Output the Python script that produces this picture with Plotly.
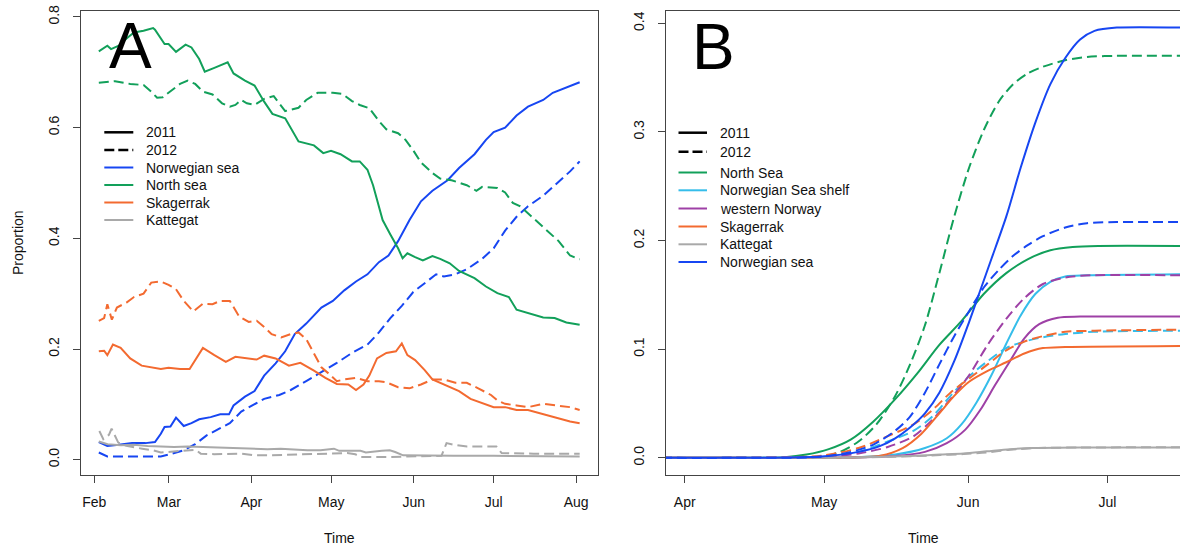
import pandas as pd
import plotly.graph_objects as go

W, H = 1180, 549
MT, MB = 11, 74
FONT = "Liberation Sans, Arial, sans-serif"

BASE_A = "2011-02-01"   # day 0 of panel A
BASE_B = "2011-04-01"   # day 0 of panel B

# ---------------- Panel A data (days since Feb 1, proportion) ----------------
a_norw11_day = [1.7,4.9,9.2,14.2,19.2,22.8,25.0,26.4,28.6,30.7,33.6,36.5,39.4,43.7,47.3,50.6,52.3,56.6,60.2,63.8,68.1,71.7,75.3,79.6,85.3,89.6,93.9,98.3,102.6,106.9,110.5,114.1,118.4,122.7,127.0,132.7,137.0,142.8,147.1,150.0,154.3,158.6,162.9,168.6,172.2,177.3,182.3]
a_norw11_val = [0.032,0.025,0.027,0.030,0.030,0.032,0.047,0.059,0.060,0.076,0.061,0.066,0.073,0.077,0.082,0.082,0.098,0.114,0.124,0.152,0.174,0.196,0.227,0.246,0.275,0.287,0.306,0.322,0.335,0.357,0.369,0.395,0.433,0.467,0.486,0.505,0.527,0.552,0.578,0.592,0.600,0.622,0.638,0.650,0.663,0.672,0.682]

a_norw12_day = [1.7,4.9,10.6,19.2,25.0,29.3,33.6,37.9,42.2,47.3,50.9,55.2,59.5,63.8,69.5,73.8,79.6,85.3,91.1,96.8,102.6,106.9,111.2,115.5,119.8,124.1,128.4,131.3,135.6,139.9,145.7,150.0,154.3,158.6,162.9,168.6,174.4,178.7,182.3]
a_norw12_val = [0.013,0.006,0.006,0.006,0.006,0.011,0.017,0.028,0.044,0.057,0.066,0.087,0.098,0.110,0.117,0.126,0.142,0.158,0.175,0.193,0.208,0.230,0.256,0.278,0.303,0.319,0.335,0.331,0.335,0.344,0.363,0.382,0.414,0.439,0.458,0.477,0.502,0.521,0.539]

a_north11_day = [1.7,4.9,6.3,9.2,12.1,14.9,18.5,22.1,22.8,26.4,27.9,30.7,34.3,36.5,39.4,41.5,45.1,50.1,52.3,56.6,60.2,63.8,66.9,71.7,76.7,82.5,86.0,88.9,92.5,96.8,99.7,102.6,104.7,108.3,111.2,114.1,115.8,117.6,120.5,123.4,127.0,129.9,133.5,137.0,142.8,147.1,151.4,155.7,158.6,162.9,168.6,172.9,177.3,182.3]
a_north11_val = [0.738,0.748,0.742,0.748,0.761,0.772,0.775,0.780,0.777,0.751,0.751,0.737,0.750,0.745,0.724,0.701,0.708,0.718,0.698,0.685,0.676,0.647,0.625,0.617,0.575,0.568,0.554,0.558,0.552,0.539,0.539,0.524,0.496,0.433,0.407,0.382,0.364,0.373,0.366,0.360,0.368,0.363,0.355,0.341,0.328,0.313,0.301,0.294,0.271,0.265,0.257,0.256,0.248,0.244]

a_north12_day = [1.7,7.8,13.5,18.5,21.4,23.6,25.7,28.6,32.2,35.1,37.9,40.8,44.4,48.0,50.9,53.0,55.2,57.3,60.2,63.8,67.4,71.7,76.7,79.6,83.9,89.6,93.2,96.8,99.7,103.3,106.9,109.7,114.1,116.9,119.8,122.7,127.0,129.9,134.2,139.9,143.5,145.7,151.4,154.3,157.2,160.0,162.9,165.8,170.1,174.4,178.7,182.3]
a_north12_val = [0.681,0.684,0.679,0.677,0.665,0.654,0.655,0.666,0.679,0.685,0.679,0.665,0.660,0.644,0.638,0.641,0.650,0.644,0.641,0.652,0.657,0.630,0.636,0.650,0.663,0.663,0.661,0.648,0.641,0.635,0.612,0.597,0.590,0.578,0.559,0.537,0.518,0.508,0.505,0.496,0.486,0.493,0.491,0.483,0.464,0.458,0.445,0.433,0.414,0.395,0.369,0.362]

a_skag11_day = [1.7,3.7,4.9,7.0,9.9,13.5,17.8,22.1,25.0,27.9,32.2,35.8,37.9,40.8,45.1,49.4,53.0,57.3,61.0,63.8,68.1,73.1,77.4,82.5,86.8,91.1,95.4,98.3,101.1,103.3,106.2,109.7,113.3,115.5,117.6,120.5,124.1,127.0,131.3,137.0,141.3,145.7,150.0,154.3,158.6,162.9,168.6,174.4,178.7,182.3]
a_skag11_val = [0.196,0.197,0.189,0.208,0.202,0.183,0.170,0.167,0.164,0.166,0.164,0.164,0.180,0.202,0.189,0.177,0.186,0.183,0.181,0.188,0.183,0.170,0.175,0.161,0.148,0.137,0.136,0.126,0.136,0.152,0.183,0.193,0.196,0.210,0.189,0.180,0.162,0.145,0.136,0.124,0.110,0.103,0.095,0.095,0.090,0.090,0.082,0.074,0.069,0.066]

a_skag12_day = [1.7,3.7,4.9,6.6,8.5,12.1,14.9,18.5,21.4,25.0,27.9,30.7,33.6,37.2,40.8,44.4,47.3,50.9,54.4,58.0,61.0,63.8,66.6,70.2,73.8,76.7,79.6,82.5,85.3,88.2,91.1,93.9,98.3,102.6,106.9,109.7,114.1,118.4,122.7,127.0,131.3,135.6,139.9,144.2,149.0,151.4,154.3,158.6,162.9,168.6,174.4,178.7,182.3]
a_skag12_val = [0.251,0.256,0.281,0.253,0.275,0.284,0.294,0.300,0.320,0.322,0.316,0.308,0.287,0.268,0.282,0.281,0.287,0.287,0.259,0.249,0.251,0.240,0.227,0.221,0.227,0.230,0.218,0.193,0.167,0.155,0.142,0.145,0.148,0.142,0.142,0.140,0.131,0.129,0.136,0.145,0.145,0.139,0.139,0.129,0.117,0.107,0.101,0.098,0.095,0.101,0.098,0.095,0.090]

a_katt11_day = [1.7,5,10,15,20,25,30,35,40,45,50,55,60,65,70,75,80,85,88,90,92,100,102,105,108,111,113,116,125,135,150,165,182.3]
a_katt11_val = [0.033,0.028,0.026,0.027,0.025,0.024,0.023,0.024,0.023,0.022,0.021,0.020,0.019,0.019,0.020,0.018,0.017,0.017,0.018,0.020,0.016,0.016,0.013,0.015,0.016,0.017,0.014,0.008,0.007,0.007,0.007,0.006,0.006]

a_katt12_day = [1.9,3.4,5.5,6.5,9.0,12,18,22,25,30,35,38,40,45,55,60,65,75,85,95,98,100,110,120,130.4,132.3,135,140,151,153,165,182.3]
a_katt12_val = [0.052,0.037,0.045,0.056,0.031,0.025,0.020,0.017,0.013,0.015,0.016,0.018,0.011,0.010,0.011,0.008,0.008,0.009,0.010,0.012,0.010,0.005,0.005,0.006,0.007,0.030,0.027,0.024,0.024,0.012,0.011,0.011]

# ---------------- Panel B data (days since Apr 1, cumulative proportion) ----------------
b_north11_day = [-5,10,21.5,26.2,31.0,35.8,40.5,45.3,50.1,54.8,59.6,64.4,69.2,73.9,78.7,83.5,89.0,107]
b_north11_val = [0,0,0.0006,0.003,0.008,0.017,0.033,0.054,0.078,0.104,0.126,0.151,0.170,0.183,0.191,0.194,0.195,0.195]
b_north12_day = [-5,10,29.4,33.4,37.4,41.3,45.3,48.5,51.7,54.8,58.0,61.2,64.4,67.6,70.7,73.9,77.1,81.9,86.6,93.0,107]
b_north12_val = [0,0,0.001,0.0055,0.015,0.031,0.057,0.086,0.122,0.170,0.222,0.267,0.302,0.328,0.344,0.354,0.360,0.366,0.369,0.370,0.370]

b_shelf11_day = [-5,10,30,37.4,45.3,51.7,56.4,59.6,62.8,66.0,69.2,72.3,75.5,78.7,81.9,86.6,107]
b_shelf11_val = [0,0,0,0.0006,0.003,0.009,0.018,0.031,0.051,0.076,0.105,0.131,0.151,0.162,0.167,0.168,0.169]
b_shelf12_day = [-5,10,31,37.4,43.7,49.3,53.3,57.2,61.2,65.2,69.2,73.1,77.1,81.9,88,107]
b_shelf12_val = [0,0,0.0016,0.0055,0.015,0.025,0.038,0.057,0.075,0.089,0.101,0.107,0.111,0.114,0.116,0.117]

b_west11_day = [-5,10,30,45.3,51.7,56.4,60.4,63.6,66.8,70.0,73.1,76.3,80.3,85.1,107]
b_west11_val = [0,0,0,0.0016,0.0055,0.0135,0.026,0.044,0.067,0.089,0.110,0.123,0.129,0.130,0.130]
b_west12_day = [-5,10,31,37.4,43.7,49.3,53.3,57.2,61.2,65.2,69.2,73.1,77.1,81.9,87.4,107]
b_west12_val = [0,0,0.0013,0.004,0.010,0.020,0.035,0.054,0.076,0.104,0.128,0.147,0.160,0.166,0.168,0.168]

b_skag11_day = [-5,10,30,42.1,46.9,50.9,54.8,58.0,61.2,65.2,69.2,73.1,77.1,81.9,107]
b_skag11_val = [0,0,0,0.002,0.009,0.022,0.041,0.057,0.070,0.080,0.088,0.096,0.101,0.102,0.103]
b_skag12_day = [-5,10,29.4,37.4,43.7,49.3,53.3,57.2,61.2,65.2,69.2,73.1,77.1,81.9,88.2,107]
b_skag12_val = [0,0,0.002,0.009,0.020,0.031,0.044,0.060,0.073,0.086,0.099,0.107,0.112,0.116,0.117,0.118]

b_katt11_day = [-5,30,40,50,55,60,65,70,75,85,107]
b_katt11_val = [0,0,0.0007,0.002,0.003,0.004,0.006,0.008,0.009,0.0095,0.0095]
b_katt12_day = [-5,30,45,55,60,65,70,76,85,107]
b_katt12_val = [0,0,0.001,0.0025,0.0035,0.005,0.0075,0.009,0.0095,0.0097]

b_norw11_day = [-5,10,29.4,37.4,42.1,45.3,48.5,51.7,54.8,58.0,61.2,63.6,66.0,69.2,72.3,75.5,78.7,81.9,85.1,88.2,93.0,107]
b_norw11_val = [0,0,0.0013,0.0055,0.011,0.018,0.028,0.041,0.060,0.089,0.125,0.154,0.183,0.222,0.267,0.309,0.344,0.368,0.385,0.393,0.396,0.396]
b_norw12_day = [-5,10,29.4,35.8,40.5,45.3,48.5,51.7,54.8,58.0,61.2,64.4,67.6,70.7,73.9,77.1,81.9,86.6,93.0,107]
b_norw12_val = [0,0,0.001,0.0055,0.012,0.025,0.038,0.060,0.086,0.112,0.135,0.157,0.173,0.186,0.196,0.204,0.212,0.216,0.217,0.217]

# ---------------- labels ----------------
a_months = ["2011-02-01","2011-03-01","2011-04-01","2011-05-01","2011-06-01","2011-07-01","2011-08-01"]
a_month_labels = ["Feb","Mar","Apr","May","Jun","Jul","Aug"]
b_months = ["2011-04-01","2011-05-01","2011-06-01","2011-07-01"]
b_month_labels = ["Apr","May","Jun","Jul"]
a_yticks = [0.0, 0.2, 0.4, 0.6, 0.8]
b_yticks = [0.0, 0.1, 0.2, 0.3, 0.4]

legend_a = ["Norwegian sea", "North sea", "Skagerrak", "Kattegat"]
legend_b = ["North Sea", "Norwegian Sea shelf", "western Norway", "Skagerrak", "Kattegat", "Norwegian sea"]

C_BLUE = "#1746F2"
C_GREEN = "#12A05A"
C_ORANGE = "#F36A30"
C_GRAY = "#A9A9A9"
C_LBLUE = "#35BDEA"
C_PURPLE = "#9E40A6"
DASH = "10px,5px"
LW = 2


def to_dates(base, days):
    return pd.Timestamp(base) + pd.to_timedelta(days, unit="D")


fig = go.Figure()

a_series = [
    (a_norw11_day, a_norw11_val, C_BLUE, "solid"),
    (a_norw12_day, a_norw12_val, C_BLUE, DASH),
    (a_north11_day, a_north11_val, C_GREEN, "solid"),
    (a_north12_day, a_north12_val, C_GREEN, DASH),
    (a_skag11_day, a_skag11_val, C_ORANGE, "solid"),
    (a_skag12_day, a_skag12_val, C_ORANGE, DASH),
    (a_katt11_day, a_katt11_val, C_GRAY, "solid"),
    (a_katt12_day, a_katt12_val, C_GRAY, DASH),
]
for d, v, c, dash in a_series:
    fig.add_trace(go.Scatter(x=to_dates(BASE_A, d), y=v, mode="lines",
                             line=dict(color=c, width=LW, dash=dash),
                             xaxis="x", yaxis="y", showlegend=False, hoverinfo="skip"))

b_series = [
    (b_north11_day, b_north11_val, C_GREEN, "solid"),
    (b_north12_day, b_north12_val, C_GREEN, DASH),
    (b_shelf11_day, b_shelf11_val, C_LBLUE, "solid"),
    (b_shelf12_day, b_shelf12_val, C_LBLUE, DASH),
    (b_west11_day, b_west11_val, C_PURPLE, "solid"),
    (b_west12_day, b_west12_val, C_PURPLE, DASH),
    (b_skag11_day, b_skag11_val, C_ORANGE, "solid"),
    (b_skag12_day, b_skag12_val, C_ORANGE, DASH),
    (b_katt11_day, b_katt11_val, C_GRAY, "solid"),
    (b_katt12_day, b_katt12_val, C_GRAY, DASH),
    (b_norw11_day, b_norw11_val, C_BLUE, "solid"),
    (b_norw12_day, b_norw12_val, C_BLUE, DASH),
]
for d, v, c, dash in b_series:
    fig.add_trace(go.Scatter(x=to_dates(BASE_B, d), y=v, mode="lines",
                             line=dict(color=c, width=LW, dash=dash, shape="spline", smoothing=0.8),
                             xaxis="x2", yaxis="y2", showlegend=False, hoverinfo="skip"))

AX = "#444444"
tickfont = dict(family=FONT, size=14, color="#111111")
common_x = dict(showline=True, linecolor=AX, linewidth=1, mirror=True, ticks="outside",
                ticklen=7, tickcolor=AX, showgrid=False, zeroline=False, tickfont=tickfont,
                type="date", ticklabelstandoff=7)
common_y = dict(showline=True, linecolor=AX, linewidth=1, ticks="outside", ticklen=7,
                tickcolor=AX, showgrid=False, zeroline=False, tickfont=tickfont, tickangle=-90,
                ticklabelstandoff=8)

PH = H - MT - MB
def px(xp):
    return xp / W
def py(yp):
    return (H - MB - yp) / PH

fig.update_layout(
    width=W, height=H, margin=dict(l=0, r=0, t=MT, b=MB),
    paper_bgcolor="white", plot_bgcolor="white", showlegend=False,
    font=dict(family=FONT, size=14, color="#111111"),
    xaxis=dict(common_x, domain=[px(80.7), px(598.3)], anchor="y",
               range=[to_dates(BASE_A, -5.1), to_dates(BASE_A, 189.3)],
               tickvals=a_months, ticktext=a_month_labels),
    yaxis=dict(common_y, domain=[0, 1], anchor="x", mirror=True,
               range=[-0.0276, 0.8108], tickvals=a_yticks,
               ticktext=[f"{t:.1f}" for t in a_yticks]),
    xaxis2=dict(common_x, domain=[px(665.7), 1.0], anchor="y2",
                range=[to_dates(BASE_B, -4.1), to_dates(BASE_B, 106.6)],
                tickvals=b_months, ticktext=b_month_labels),
    yaxis2=dict(common_y, domain=[0, 1], anchor="x2", mirror=False,
                range=[-0.0158, 0.4113], tickvals=b_yticks,
                ticktext=[f"{t:.1f}" for t in b_yticks]),
)

ann = []
shapes = []
# panel letters
ann.append(dict(text="A", x=px(130.3), y=py(46), xref="paper", yref="paper",
                xanchor="center", yanchor="middle", showarrow=False,
                font=dict(family=FONT, size=64, color="black")))
ann.append(dict(text="B", x=px(713.7), y=py(47), xref="paper", yref="paper",
                xanchor="center", yanchor="middle", showarrow=False,
                font=dict(family=FONT, size=64, color="black")))
# axis titles
ann.append(dict(text="Time", x=px(339.5), y=py(538), xref="paper", yref="paper",
                xanchor="center", yanchor="middle", showarrow=False, font=dict(size=14)))
ann.append(dict(text="Time", x=px(923.7), y=py(538), xref="paper", yref="paper",
                xanchor="center", yanchor="middle", showarrow=False, font=dict(size=14)))
ann.append(dict(text="Proportion", x=px(18), y=py(243), xref="paper", yref="paper",
                xanchor="center", yanchor="middle", showarrow=False, textangle=-90,
                font=dict(size=14)))

# legends
def legend_block(rows_y, x0, x1, xt, labels, colors, dashes, widths):
    for yy, lab, col, dsh, wd in zip(rows_y, labels, colors, dashes, widths):
        shapes.append(dict(type="line", xref="paper", yref="paper",
                           x0=px(x0), x1=px(x1), y0=py(yy), y1=py(yy),
                           line=dict(color=col, width=wd, dash=dsh)))
        ann.append(dict(text=lab, x=px(xt), y=py(yy), xref="paper", yref="paper",
                        xanchor="left", yanchor="middle", showarrow=False,
                        font=dict(size=14, color="#111111")))

legend_block([132.3, 150.0, 167.5, 185.0, 202.5, 220.0], 104.3, 133.3, 143.7,
             ["2011", "2012"] + legend_a,
             ["black", "black", C_BLUE, C_GREEN, C_ORANGE, C_GRAY],
             ["solid", "10px,4px", "solid", "solid", "solid", "solid"],
             [2.5, 2.5, 2, 2, 2, 2])
legend_block([132.7, 151.7, 172.5, 190.3, 208.5, 226.5, 244.3, 262.0], 678.5, 707.0, 717.7,
             ["2011", "2012"] + legend_b,
             ["black", "black", C_GREEN, C_LBLUE, C_PURPLE, C_ORANGE, C_GRAY, C_BLUE],
             ["solid", "10px,4px", "solid", "solid", "solid", "solid", "solid", "solid"],
             [2.5, 2.5, 2, 2, 2, 2, 2, 2])

fig.update_layout(annotations=ann, shapes=shapes)
fig.write_html("out.html")
